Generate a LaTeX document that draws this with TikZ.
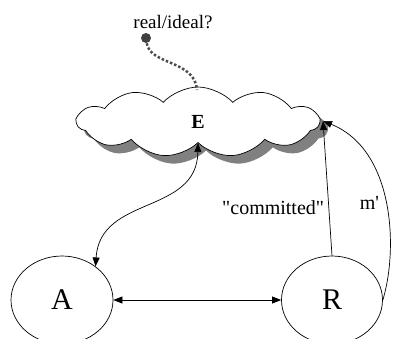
\documentclass[tikz,border=0pt]{standalone}
\usepackage{fontspec}
\setmainfont{Liberation Serif}
\usetikzlibrary{shapes, shapes.symbols, shadows, arrows.meta}

\begin{document}
\begin{tikzpicture}[x=1pt, y=-1pt, >={Triangle[length=9pt, width=7pt]}, line width=0.7pt]
\useasboundingbox (0,0) rectangle (393,338);

\node[cloud, draw=black, fill=white, cloud puffs=11, cloud puff arc=95, aspect=3.3,
  minimum width=242pt, minimum height=70pt, inner sep=0pt,
  drop shadow={shadow xshift=8pt, shadow yshift=-8pt, fill=black!50, opacity=1},
  font=\fontsize{20}{22}\selectfont\bfseries] (E) at (198,122) {E};
\node[ellipse, draw=black, minimum width=102pt, minimum height=88pt,
  font=\fontsize{30}{32}\selectfont] (A) at (62,300) {A};
\node[ellipse, draw=black, minimum width=101pt, minimum height=88pt,
  font=\fontsize{30}{32}\selectfont] (R) at (332,300) {R};
\node[circle, fill=black!75, inner sep=0pt, minimum size=10pt] (dot) at (146,38) {};
\node[font=\fontsize{19}{21}\selectfont] (q) at (173,22) {real/ideal?};
\coordinate (Ein) at (323,121);

\draw[dotted, line width=2.5pt, black!70] (dot) .. controls (150,65) and (195,60) .. (197,90);
\draw[<->] (E.south) .. controls (197,215) and (100,195) .. (A.45);
\draw[<->] (A) -- (R);
\draw[->] (R.north) --node[pos=0.36, left=1pt, font=\fontsize{20}{22}\selectfont] {\textquotedbl committed\textquotedbl} (Ein);
\draw[->] (R.east) .. controls (398,250) and (395,150) ..node[pos=0.5, left=3pt, font=\fontsize{20}{22}\selectfont] {m\textquotesingle} (Ein);
\end{tikzpicture}
\end{document}
